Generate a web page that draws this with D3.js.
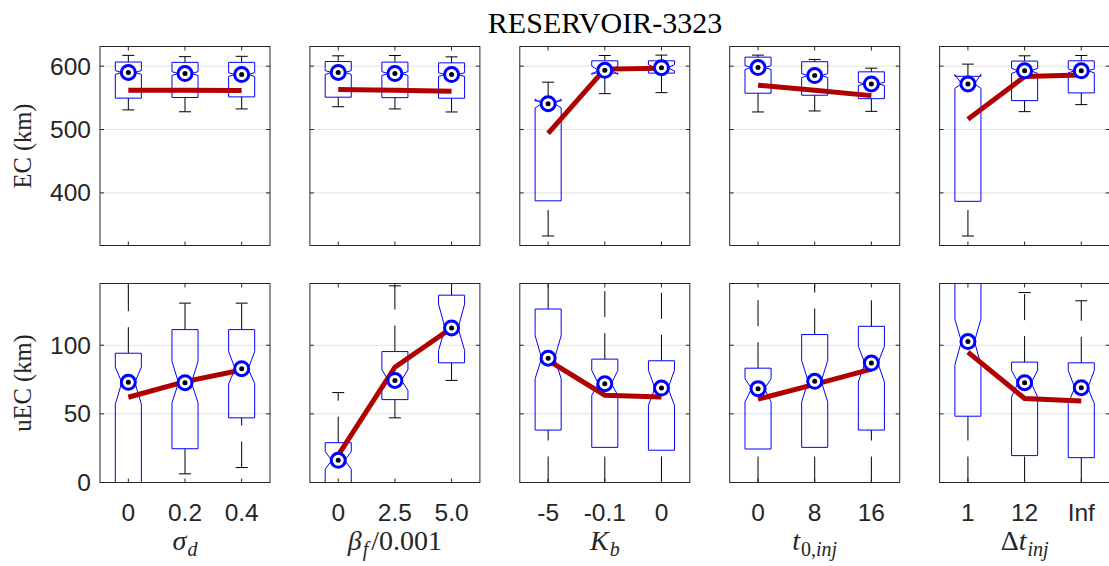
<!DOCTYPE html>
<html><head><meta charset="utf-8">
<script src="https://cdn.jsdelivr.net/npm/d3@7"></script>
<style>body{margin:0;background:#fff} svg{display:block}</style>
</head><body>
<svg id="c" width="1109" height="566"></svg>
<script>
const chartTitle = "RESERVOIR-3323";
const tickLabels = [["0","0.2","0.4"],["0","2.5","5.0"],["-5","-0.1","0"],["0","8","16"],["1","12","Inf"]];
const xLabelParts = [
  [["σ","i"],["d","si"]],
  [["β","i"],["f","si"],["/0.001","r"]],
  [["K","i"],["b","si"]],
  [["t","i"],["0,","sr"],["inj","si"]],
  [["Δ","r"],["t","i"],["inj","si"]]
];
const yLabels = ["EC (km)", "uEC (km)"];
const ecTicks = [400, 500, 600];
const uecTicks = [0, 50, 100];
const ecDomain = [317, 631];
const uecDomain = [0, 145];

// EC (top row): one array per statistic, [panel][level]
const ecWhiskerLow  = [[531,528,532.5],[536,532.5,527.7],[332,556.6,558.2],[527.7,529.3,528.7],[332,528.2,539.3]];
const ecQ1          = [[549.5,550.5,551.5],[551,550.3,549.4],[387.5,589,589],[557.3,554.1,548.7],[386.7,545.6,557.8]];
const ecNotchLow    = [[587,585.3,583.7],[587,585.3,583.7],[534,587,592.5],[594.8,582.1,569.5],[565,588.5,589.5]];
const ecMedian      = [[590,588.3,586.7],[590,588.3,586.7],[540.8,593.5,597.5],[597.8,585.1,572],[572,592.6,592.6]];
const ecNotchHigh   = [[593,591.3,589.7],[593,591.3,589.7],[548,600,602.5],[600.8,588.1,574.5],[587,596.7,595.7]];
const ecQ3          = [[606.5,606,606],[607.3,606.3,605.2],[545,608.4,608.4],[614.2,607,591],[584,608,608.4]];
const ecWhiskerHigh = [[617,615,615.5],[616.3,616.8,614.7],[574.7,616.8,617.4],[617.4,610.6,596.8],[603.2,616.3,616.8]];
const ecMean        = [[562,562,561.5],[563,562,560.5],[494,595.3,596.8],[570,562,553.5],[516.3,583.6,586.2]];

// uEC (bottom row)
const uecWhiskerLow  = [[0,6.3,10.9],[0,47.1,74.4],[0,0,0],[0,0,0],[0,0,0]];
const uecQ1          = [[0,24.6,47.1],[0,60.4,87.2],[38.2,25.6,23.5],[24.4,25.6,38.2],[48.3,19.6,18.1]];
const uecNotchLow    = [[57,58,72],[9.7,67.2,96.2],[75.6,63.6,56.3],[58.7,58.7,73.2],[85.8,62.3,57.5]];
const uecMedian      = [[73,72.7,82.9],[16.2,74.4,112.6],[90.6,72,68.8],[68.4,73.7,87],[102.7,72.7,69.1]];
const uecNotchHigh   = [[84,88.4,95.4],[22.5,82.2,130],[107,81.7,81.7],[75.6,88.9,99.3],[119.1,81.7,81.7]];
const uecQ3          = [[94.2,111.4,111.4],[29,95.4,136.5],[126.4,89.9,88.7],[83.3,107.8,113.8],[150,87.7,87.2]];
const uecWhiskerHigh = [[180,130.7,130.7],[65.5,143.3,170],[180,180,180],[180,180,180],[200,138.4,132.4]];
const uecMean        = [[62.1,73.5,82],[20,84,112.6],[88.9,63.6,62.3],[60.7,71.5,82.6],[95,61.2,59.4]];

const svg = d3.select("#c");
const W = 170, H = 199;
const lefts = [0,1,2,3,4].map(i => 100 + i * 209.9);
const tops = [46.5, 283.5];
const textColor = "#262626";
const tickFont = "'Liberation Sans', Arial, sans-serif";
const serif = "'Liberation Serif', 'Times New Roman', serif";

const rows = [
  {domain: ecDomain, ticks: ecTicks, wl: ecWhiskerLow, q1: ecQ1, nl: ecNotchLow, md: ecMedian, nh: ecNotchHigh, q3: ecQ3, wh: ecWhiskerHigh, mn: ecMean},
  {domain: uecDomain, ticks: uecTicks, wl: uecWhiskerLow, q1: uecQ1, nl: uecNotchLow, md: uecMedian, nh: uecNotchHigh, q3: uecQ3, wh: uecWhiskerHigh, mn: uecMean}
];

svg.append("text").attr("x", 605).attr("y", 33).attr("text-anchor","middle")
  .attr("font-family", serif).attr("font-size", 30).attr("fill", "#000").text(chartTitle);

const defs = svg.append("defs");
const x = d3.scaleLinear().domain([0.5, 3.5]).range([0, W]);
const hw = (x(2) - x(1)) * 0.23;

rows.forEach((row, r) => {
  const y = d3.scaleLinear().domain(row.domain).range([H, 0]);
  lefts.forEach((lx, p) => {
    const g = svg.append("g").attr("transform", `translate(${lx},${tops[r]})`);
    const cid = `clip-${r}-${p}`;
    defs.append("clipPath").attr("id", cid).append("rect").attr("width", W).attr("height", H);
    const pg = g.append("g").attr("clip-path", `url(#${cid})`);
    pg.selectAll(".grid").data(row.ticks).enter().append("line")
      .attr("x1", 0).attr("x2", W).attr("y1", d => y(d)).attr("y2", d => y(d))
      .attr("stroke", "#e3e3e3").attr("stroke-width", 1);
    const idx = [0,1,2];
    idx.forEach(i => {
      const cx = x(i + 1);
      pg.append("line").attr("x1", cx).attr("x2", cx)
        .attr("y1", y(row.wl[p][i])).attr("y2", y(row.q1[p][i]))
        .attr("stroke", "#000").attr("stroke-width", 1).attr("stroke-dasharray", "26,16");
      pg.append("line").attr("x1", cx).attr("x2", cx)
        .attr("y1", y(row.q3[p][i])).attr("y2", y(row.wh[p][i]))
        .attr("stroke", "#000").attr("stroke-width", 1).attr("stroke-dasharray", "26,16");
      [row.wl[p][i], row.wh[p][i]].forEach(v => {
        pg.append("line").attr("x1", cx - 6).attr("x2", cx + 6)
          .attr("y1", y(v)).attr("y2", y(v)).attr("stroke", "#000").attr("stroke-width", 1);
      });
      const pts = [
        [cx - hw, y(row.q1[p][i])], [cx - hw, y(row.nl[p][i])], [cx - hw/2, y(row.md[p][i])],
        [cx - hw, y(row.nh[p][i])], [cx - hw, y(row.q3[p][i])], [cx + hw, y(row.q3[p][i])],
        [cx + hw, y(row.nh[p][i])], [cx + hw/2, y(row.md[p][i])], [cx + hw, y(row.nl[p][i])],
        [cx + hw, y(row.q1[p][i])]
      ];
      pg.append("path").attr("d", d3.line()(pts) + "Z")
        .attr("fill", "none").attr("stroke", "#0000ff").attr("stroke-width", 1);
    });
    pg.append("path").datum(row.mn[p])
      .attr("d", d3.line().x((d, i) => x(i + 1)).y(d => y(d)))
      .attr("fill", "none").attr("stroke", "#b00000").attr("stroke-width", 5);
    idx.forEach(i => {
      const cx = x(i + 1), cy = y(row.md[p][i]);
      pg.append("circle").attr("cx", cx).attr("cy", cy).attr("r", 7)
        .attr("fill", "#fff").attr("stroke", "#0000ff").attr("stroke-width", 3);
      pg.append("circle").attr("cx", cx).attr("cy", cy).attr("r", 2.5).attr("fill", "#000");
    });
    g.append("rect").attr("width", W).attr("height", H).attr("fill", "none")
      .attr("stroke", textColor).attr("stroke-width", 1);
    const tl = 4;
    row.ticks.forEach(t => {
      g.append("line").attr("x1", 0).attr("x2", tl).attr("y1", y(t)).attr("y2", y(t)).attr("stroke", textColor);
      g.append("line").attr("x1", W - tl).attr("x2", W).attr("y1", y(t)).attr("y2", y(t)).attr("stroke", textColor);
    });
    idx.forEach(i => {
      g.append("line").attr("x1", x(i+1)).attr("x2", x(i+1)).attr("y1", H).attr("y2", H - tl).attr("stroke", textColor);
      g.append("line").attr("x1", x(i+1)).attr("x2", x(i+1)).attr("y1", 0).attr("y2", tl).attr("stroke", textColor);
    });
    if (p === 0) {
      row.ticks.forEach(t => {
        g.append("text").attr("x", -9).attr("y", y(t) + 8.5).attr("text-anchor", "end")
          .attr("font-family", tickFont).attr("font-size", 24.5).attr("fill", textColor).text(t);
      });
      g.append("text").attr("transform", `translate(-69,${H/2}) rotate(-90)`)
        .attr("text-anchor", "middle").attr("font-family", serif).attr("font-size", 24.5)
        .attr("fill", textColor).text(yLabels[r]);
    }
    if (r === 1) {
      tickLabels[p].forEach((lab, i) => {
        g.append("text").attr("x", x(i+1)).attr("y", H + 38.5).attr("text-anchor", "middle")
          .attr("font-family", tickFont).attr("font-size", 24.5).attr("fill", textColor).text(lab);
      });
      const t = g.append("text").attr("x", W/2).attr("y", H + 67).attr("text-anchor", "middle")
        .attr("font-family", serif).attr("font-size", 28).attr("fill", textColor);
      xLabelParts[p].forEach(([s, st], k) => {
        const ts = t.append("tspan").text(s);
        if (st === "i" || st === "si") ts.attr("font-style", "italic");
        const wasSub = k > 0 && xLabelParts[p][k-1][1].startsWith("s");
        const isSub = st.startsWith("s");
        if (isSub) ts.attr("font-size", 20);
        if (isSub && !wasSub) ts.attr("dy", 6).attr("dx", 1);
        if (!isSub && wasSub) ts.attr("dy", -6).attr("dx", 3);
      });
    }
  });
});
</script>
</body></html>
